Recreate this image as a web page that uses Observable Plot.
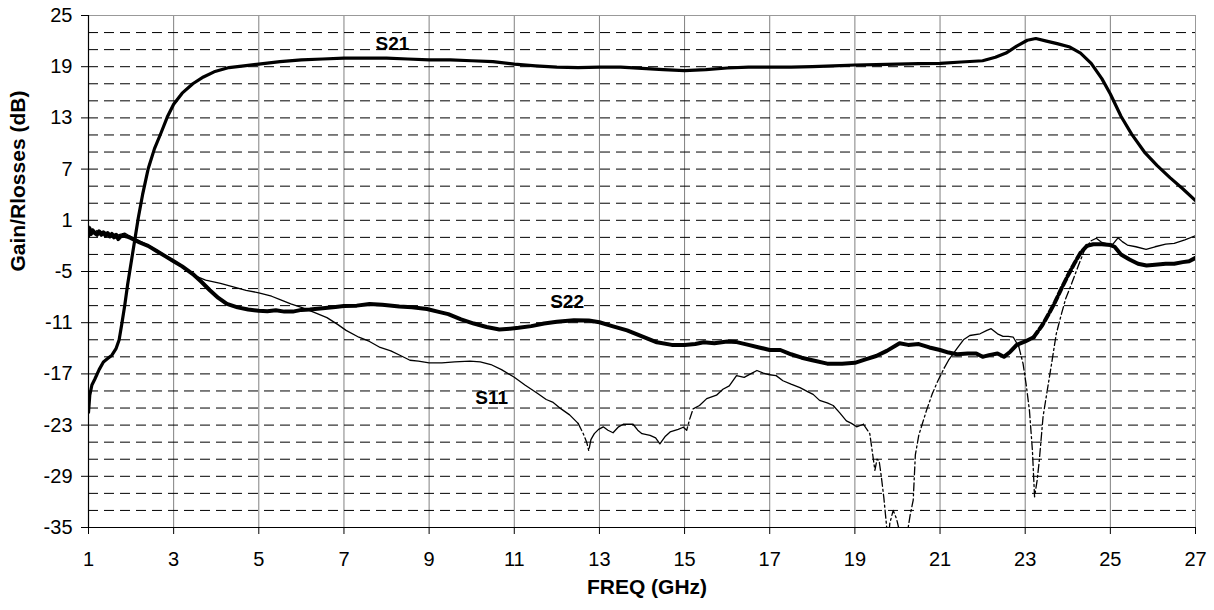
<!DOCTYPE html>
<html><head><meta charset="utf-8">
<script src="https://cdn.jsdelivr.net/npm/d3@7"></script>
<script src="https://cdn.jsdelivr.net/npm/@observablehq/plot@0.6"></script>
<style>body{margin:0;background:#fff}#chart svg{display:block}</style>
</head><body><div id="chart"></div>
<script>
// ---- data ----
const s21Freq = [1.00,1.03,1.08,1.15,1.25,1.35,1.45,1.55,1.65,1.72,1.78,1.85,1.92,2.00,2.08,2.17,2.27,2.40,2.55,2.70,2.85,3.00,3.20,3.45,3.70,3.95,4.30,4.65,5.00,5.50,6.00,6.50,7.00,7.50,8.00,8.50,9.00,9.50,10.00,10.50,11.00,11.50,12.00,12.50,13.00,13.50,14.00,14.50,15.00,15.50,16.00,16.50,17.00,17.50,18.00,18.50,19.00,19.50,20.00,20.50,21.00,21.50,22.00,22.30,22.55,22.80,23.05,23.25,23.50,23.75,24.05,24.30,24.55,24.80,25.00,25.25,25.50,25.80,26.10,26.40,26.70,27.00];
const s21Gain = [-21.5,-19.5,-18.3,-17.6,-16.5,-15.6,-15.2,-14.8,-14.0,-13.0,-11.2,-9.0,-6.5,-4.0,-1.5,1.3,4.0,7.0,9.4,11.2,13.1,14.6,15.9,17.0,17.8,18.4,18.9,19.1,19.3,19.6,19.8,19.9,20.0,20.0,20.0,19.9,19.8,19.8,19.7,19.6,19.3,19.1,18.95,18.9,18.95,18.95,18.8,18.65,18.55,18.65,18.85,18.95,18.95,18.95,19.0,19.1,19.2,19.25,19.3,19.35,19.4,19.55,19.7,20.1,20.6,21.4,22.1,22.3,22.0,21.7,21.3,20.6,19.4,17.6,15.8,13.2,11.1,9.0,7.4,6.0,4.7,3.3];

const s22Freq = [1.00,1.03,1.06,1.10,1.15,1.20,1.25,1.30,1.35,1.40,1.45,1.50,1.55,1.60,1.65,1.70,1.75,1.82,1.90,2.00,2.20,2.40,2.60,2.80,3.00,3.20,3.45,3.65,3.85,4.05,4.25,4.50,4.75,5.00,5.20,5.40,5.60,5.80,6.00,6.20,6.50,6.80,7.00,7.30,7.60,7.90,8.30,8.60,8.95,9.20,9.45,9.75,10.05,10.35,10.65,10.90,11.10,11.40,11.70,12.00,12.40,12.75,13.00,13.30,13.65,14.00,14.35,14.70,15.00,15.25,15.45,15.70,16.00,16.20,16.50,16.75,17.00,17.25,17.50,17.75,18.00,18.35,18.70,19.00,19.25,19.50,19.75,20.05,20.25,20.50,20.75,21.00,21.20,21.40,21.65,21.85,22.00,22.15,22.35,22.50,22.65,22.80,23.00,23.20,23.40,23.55,23.70,23.85,24.00,24.15,24.30,24.45,24.60,24.80,25.00,25.10,25.25,25.45,25.65,25.85,26.05,26.30,26.50,26.70,26.85,27.00];
const s22Loss = [-0.8,0.0,-0.6,-0.2,-0.5,-0.7,-0.3,-0.7,-0.4,-0.8,-0.5,-0.9,-0.6,-1.0,-0.7,-1.2,-0.9,-0.8,-0.9,-1.1,-1.6,-2.0,-2.6,-3.2,-3.8,-4.4,-5.3,-6.2,-7.2,-8.1,-8.8,-9.2,-9.45,-9.6,-9.65,-9.55,-9.7,-9.7,-9.5,-9.45,-9.3,-9.15,-9.05,-9.0,-8.8,-8.9,-9.1,-9.2,-9.4,-9.7,-10.0,-10.6,-11.1,-11.5,-11.8,-11.7,-11.6,-11.4,-11.1,-10.9,-10.7,-10.75,-10.95,-11.4,-11.9,-12.6,-13.3,-13.6,-13.6,-13.5,-13.3,-13.4,-13.2,-13.25,-13.6,-13.9,-14.2,-14.2,-14.7,-15.1,-15.4,-15.8,-15.8,-15.7,-15.3,-14.9,-14.3,-13.4,-13.6,-13.5,-13.9,-14.2,-14.5,-14.7,-14.6,-14.6,-15.0,-14.8,-14.6,-15.0,-14.4,-13.6,-13.2,-12.7,-11.3,-10.0,-8.6,-7.0,-5.5,-4.1,-2.8,-2.0,-1.8,-1.8,-1.9,-2.1,-3.0,-3.6,-4.1,-4.3,-4.2,-4.1,-4.1,-3.9,-3.8,-3.4];

const s11Freq = [1.00,1.03,1.06,1.10,1.15,1.20,1.25,1.30,1.35,1.40,1.45,1.50,1.55,1.60,1.65,1.70,1.78,1.85,1.92,2.00,2.20,2.40,2.60,2.80,3.00,3.20,3.45,3.75,4.10,4.40,4.70,5.00,5.30,5.50,5.75,6.00,6.30,6.60,6.85,7.05,7.35,7.60,7.85,8.10,8.35,8.55,8.75,9.00,9.30,9.60,9.96,10.20,10.45,10.70,11.00,11.25,11.55,11.75,11.90,12.10,12.30,12.50,12.62,12.70,12.75,12.80,12.88,12.98,13.09,13.20,13.32,13.45,13.56,13.70,13.79,13.90,14.00,14.19,14.32,14.42,14.55,14.66,14.85,14.97,15.05,15.12,15.20,15.35,15.52,15.75,15.90,16.05,16.22,16.40,16.55,16.70,16.85,17.00,17.15,17.31,17.50,17.71,17.90,18.02,18.17,18.35,18.49,18.65,18.80,18.92,19.04,19.20,19.35,19.42,19.47,19.52,19.57,19.62,19.68,19.74,19.78,19.82,19.90,19.98,20.05,20.12,20.22,20.30,20.37,20.42,20.50,20.68,20.82,20.95,21.10,21.20,21.40,21.55,21.70,21.94,22.10,22.20,22.35,22.48,22.60,22.72,22.85,22.95,23.03,23.10,23.17,23.22,23.28,23.33,23.42,23.50,23.62,23.73,23.85,23.95,24.10,24.25,24.40,24.55,24.67,24.80,24.95,25.06,25.18,25.28,25.40,25.60,25.84,26.05,26.30,26.50,26.75,27.00];
const s11Loss = [-0.6,0.3,-0.3,0.0,-0.4,-0.2,-0.6,-0.3,-0.6,-0.4,-0.8,-0.5,-0.8,-0.6,-1.0,-0.7,-0.6,-0.5,-0.7,-0.9,-1.4,-1.9,-2.5,-3.1,-3.7,-4.5,-5.4,-6.0,-6.4,-6.8,-7.2,-7.5,-7.9,-8.3,-8.8,-9.2,-9.8,-10.4,-11.2,-11.9,-12.7,-13.2,-13.9,-14.3,-14.9,-15.4,-15.5,-15.7,-15.7,-15.6,-15.5,-15.6,-15.9,-16.5,-17.4,-18.3,-19.3,-20.0,-20.3,-21.1,-21.8,-22.8,-24.0,-25.0,-26.0,-24.7,-24.0,-23.5,-23.2,-23.6,-23.9,-23.2,-22.9,-22.9,-22.9,-23.6,-24.0,-24.2,-24.5,-25.2,-24.3,-23.8,-23.5,-23.25,-23.6,-22.3,-21.1,-20.7,-19.9,-19.5,-18.8,-18.4,-17.2,-17.4,-17.0,-16.6,-16.9,-17.1,-17.2,-17.8,-18.2,-18.6,-19.1,-19.4,-20.1,-20.4,-20.7,-21.6,-22.5,-22.8,-23.2,-22.9,-24.0,-26.5,-28.3,-27.0,-27.2,-29.0,-31.5,-34.6,-37.0,-34.5,-33.0,-34.0,-35.5,-37.0,-36.0,-33.5,-31.8,-26.5,-24.2,-21.3,-19.3,-17.8,-16.3,-15.4,-14.0,-13.0,-12.5,-12.3,-11.9,-11.7,-12.3,-12.6,-12.6,-12.7,-13.8,-15.8,-18.5,-21.3,-26.0,-31.4,-29.5,-27.2,-22.0,-19.5,-15.8,-12.3,-10.0,-8.2,-6.3,-4.3,-2.4,-1.4,-1.1,-1.6,-1.8,-1.8,-1.05,-1.5,-1.9,-2.1,-2.4,-2.1,-1.8,-1.7,-1.3,-0.8];

const yTickValues = [25,19,13,7,1,-5,-11,-17,-23,-29,-35];
const xTickValues = [1,3,5,7,9,11,13,15,17,19,21,23,25,27];
const minorGridY = [23,21,19,17,15,13,11,9,7,5,3,1,-1,-3,-5,-7,-9,-11,-13,-15,-17,-19,-21,-23,-25,-27,-29,-31,-33];
const gridX = [3,5,7,9,11,13,15,17,19,21,23,25];
const seriesNames = ["S21","S22","S11"];

// ---- helpers ----
const toPoints = (fs, vs) => fs.map((f, i) => ({f, v: vs[i]}));
function splitDash(pts, ranges) {
  const inR = f => ranges.some(([a, b]) => f >= a && f <= b);
  const out = []; let seg = 0; let prev = null;
  for (const p of pts) {
    const d = inR(p.f);
    if (prev && prev.d !== d) { seg++; out.push({...prev, d, seg}); }
    const q = {...p, d, seg}; out.push(q); prev = q;
  }
  return out;
}
const s21 = toPoints(s21Freq, s21Gain);
const s22 = splitDash(toPoints(s22Freq, s22Loss), [[23.4, 24.45]]);
const s11 = splitDash(toPoints(s11Freq, s11Loss), [[12.6, 12.85], [15.05, 15.3], [19.3, 21.1], [22.9, 24.6]]);

const font = "Liberation Sans, Arial, Helvetica, sans-serif";
const chart = Plot.plot({
  width: 1214, height: 610,
  marginLeft: 88, marginRight: 19, marginTop: 15, marginBottom: 83,
  style: {fontFamily: font, fontSize: "20px", color: "#000", background: "#fff"},
  x: {type: "linear", domain: [1, 27]},
  y: {type: "linear", domain: [-35, 25]},
  marks: [
    Plot.ruleX(gridX, {stroke: "#808080", strokeWidth: 1}),
    Plot.ruleY(minorGridY, {stroke: "#000", strokeWidth: 1, strokeDasharray: "10,6"}),
    Plot.ruleY([25], {stroke: "#999", strokeWidth: 1}),
    Plot.ruleX([27], {stroke: "#999", strokeWidth: 1}),
    Plot.line(s21, {x: "f", y: "v", stroke: "#000", strokeWidth: 3.2, clip: true}),
    Plot.line(s22.filter(p => !p.d), {x: "f", y: "v", z: "seg", stroke: "#000", strokeWidth: 4, clip: true}),
    Plot.line(s22.filter(p => p.d), {x: "f", y: "v", z: "seg", stroke: "#000", strokeWidth: 4, strokeDasharray: "7,3", clip: true}),
    Plot.line(s11.filter(p => !p.d), {x: "f", y: "v", z: "seg", stroke: "#000", strokeWidth: 1.3, clip: true}),
    Plot.line(s11.filter(p => p.d), {x: "f", y: "v", z: "seg", stroke: "#000", strokeWidth: 1.3, strokeDasharray: "8,3,2,3", clip: true}),
    Plot.ruleX([1], {stroke: "#000", strokeWidth: 1.2}),
    Plot.ruleY([-35], {stroke: "#000", strokeWidth: 1.2}),
    Plot.axisY(yTickValues, {anchor: "left", tickSize: 7, tickPadding: 9, fontSize: 20, label: null, tickFormat: d => String(d)}),
    Plot.axisX(xTickValues, {anchor: "bottom", tickSize: 7, tickPadding: 17, fontSize: 20, label: null, tickFormat: d => String(d)}),
    Plot.text([seriesNames[0]], {x: 8.14, y: 21.7, fontWeight: "bold", fontSize: 19}),
    Plot.text([seriesNames[1]], {x: 12.24, y: -8.6, fontWeight: "bold", fontSize: 19}),
    Plot.text([seriesNames[2]], {x: 10.47, y: -19.8, fontWeight: "bold", fontSize: 19}),
    Plot.text(["FREQ (GHz)"], {frameAnchor: "bottom", dy: 66, dx: 5, fontWeight: "bold", fontSize: 21}),
    Plot.text(["Gain/Rlosses (dB)"], {frameAnchor: "left", dx: -70, rotate: -90, fontWeight: "bold", fontSize: 21})
  ]
});
document.getElementById("chart").appendChild(chart);
</script>
</body></html>
